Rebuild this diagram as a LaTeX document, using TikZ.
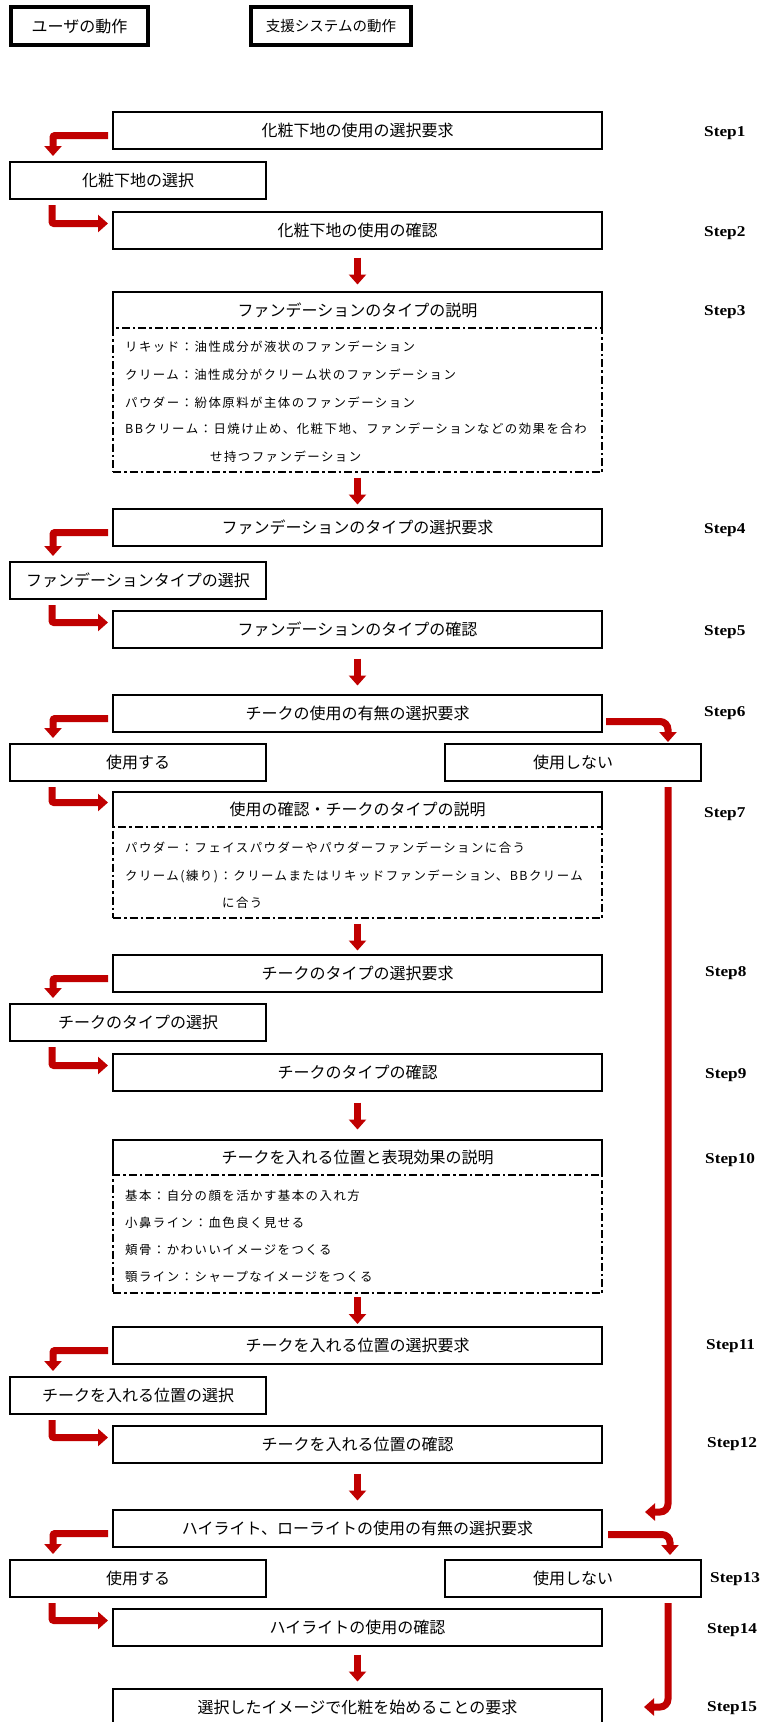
\documentclass[tikz,border=0pt]{standalone}
\usepackage{fontspec}
\setmainfont{Noto Sans CJK JP}
\newfontfamily\stepfont[FakeStretch=1.15]{Liberation Serif}
\newfontfamily\detfont[LetterSpace=12]{Noto Sans CJK JP}
\usetikzlibrary{arrows.meta,calc}
\definecolor{arrowred}{HTML}{C00000}
\tikzset{
 box/.style={draw, line width=2pt, anchor=north west, inner sep=0pt, outer sep=0pt, minimum height=37pt, font=\fontsize{16}{18}\selectfont},
 sbox/.style={box, minimum width=489pt},
 ubox/.style={box, minimum width=256pt},
 hbox/.style={box, line width=3.5pt, minimum height=38pt},
 headbox/.style={box, minimum width=489pt, minimum height=36pt, draw=none},
 dashbox/.style={draw, line width=2.8pt, dash pattern=on 8pt off 3pt on 2.5pt off 3pt, anchor=north west, inner sep=0pt, outer sep=0pt, minimum width=489pt},
 det/.style={anchor=west, inner sep=0pt, font=\detfont\fontsize{12.4}{14}\selectfont},
 steplbl/.style={anchor=west, inner sep=0pt, font=\stepfont\bfseries\fontsize{15}{17}\selectfont},
 redarrow/.style={draw=arrowred, line width=7pt, -{Triangle[width=17pt,length=10pt]}},
}
\newcommand\downarr[2]{\draw[redarrow] ($(#1.south)!0.5!(#2.north)+(0,-13)$) -- ($(#1.south)!0.5!(#2.north)+(0,14)$);}
\newcommand\leftdown[2]{\draw[redarrow, rounded corners=2pt] ($(#1.west)+(-5,5)$) -| ($(#2.north west)+(43,-6)$);}
\newcommand\downright[2]{\draw[redarrow, rounded corners=2pt] ($(#1.south west)+(42,6)$) |- ($(#2.west)+(-5,-7)$);}
\begin{document}
\begin{tikzpicture}[x=1pt,y=-1pt]
\fill[white] (0,0) rectangle (761,1722);
\clip (0,0) rectangle (761,1722);
% headers
\node[hbox, minimum width=137pt] (h1) at (11,7) {ユーザの動作};
\node[hbox, minimum width=160pt, font=\fontsize{14.5}{17}\selectfont] (h2) at (251,7) {支援システムの動作};
% steps
\node[sbox] (s1) at (113,112) {化粧下地の使用の選択要求};
\node[ubox] (u1) at (10,162) {化粧下地の選択};
\node[sbox] (s2) at (113,212) {化粧下地の使用の確認};
\node[headbox] (s3) at (113,292) {ファンデーションのタイプの説明};
\draw[line width=2pt] (s3.south west) -- (s3.north west) -- (s3.north east) -- (s3.south east);
\node[dashbox, minimum height=144pt] (d3) at (113,328) {};
\node[det] (d3a) at (125,347) {リキッド：油性成分が液状のファンデーション};
\node[det] (d3b) at (125,375) {クリーム：油性成分がクリーム状のファンデーション};
\node[det] (d3c) at (125,403) {パウダー：紛体原料が主体のファンデーション};
\node[det] (d3d) at (125,429) {BBクリーム：日焼け止め、化粧下地、ファンデーションなどの効果を合わ};
\node[det] (d3e) at (210,457) {せ持つファンデーション};
\node[sbox] (s4) at (113,509) {ファンデーションのタイプの選択要求};
\node[ubox] (u2) at (10,562) {ファンデーションタイプの選択};
\node[sbox] (s5) at (113,611) {ファンデーションのタイプの確認};
\node[sbox] (s6) at (113,695) {チークの使用の有無の選択要求};
\node[ubox] (u3) at (10,744) {使用する};
\node[ubox] (n1) at (445,744) {使用しない};
\node[headbox, minimum height=35pt] (s7) at (113,792) {使用の確認・チークのタイプの説明};
\draw[line width=2pt] (s7.south west) -- (s7.north west) -- (s7.north east) -- (s7.south east);
\node[dashbox, minimum height=91pt] (d7) at (113,827) {};
\node[det] (d7a) at (125,848) {パウダー：フェイスパウダーやパウダーファンデーションに合う};
\node[det] (d7b) at (125,876) {クリーム(練り)：クリームまたはリキッドファンデーション、BBクリーム};
\node[det] (d7c) at (222,903) {に合う};
\node[sbox] (s8) at (113,955) {チークのタイプの選択要求};
\node[ubox] (u4) at (10,1004) {チークのタイプの選択};
\node[sbox] (s9) at (113,1054) {チークのタイプの確認};
\node[headbox, minimum height=35pt] (s10) at (113,1140) {チークを入れる位置と表現効果の説明};
\draw[line width=2pt] (s10.south west) -- (s10.north west) -- (s10.north east) -- (s10.south east);
\node[dashbox, minimum height=118pt] (d10) at (113,1175) {};
\node[det] (d10a) at (125,1196) {基本：自分の顔を活かす基本の入れ方};
\node[det] (d10b) at (125,1223) {小鼻ライン：血色良く見せる};
\node[det] (d10c) at (125,1250) {頬骨：かわいいイメージをつくる};
\node[det] (d10d) at (125,1277) {顎ライン：シャープなイメージをつくる};
\node[sbox] (s11) at (113,1327) {チークを入れる位置の選択要求};
\node[ubox] (u5) at (10,1377) {チークを入れる位置の選択};
\node[sbox] (s12) at (113,1426) {チークを入れる位置の確認};
\node[sbox] (s13) at (113,1510) {ハイライト、ローライトの使用の有無の選択要求};
\node[ubox] (u6) at (10,1560) {使用する};
\node[ubox] (n2) at (445,1560) {使用しない};
\node[sbox] (s14) at (113,1609) {ハイライトの使用の確認};
\node[sbox] (s15) at (113,1689) {選択したイメージで化粧を始めることの要求};
% step labels
\node[steplbl] (l1) at (704,133) {Step1};
\node[steplbl] (l2) at (704,233) {Step2};
\node[steplbl] (l3) at (704,312) {Step3};
\node[steplbl] (l4) at (704,530) {Step4};
\node[steplbl] (l5) at (704,632) {Step5};
\node[steplbl] (l6) at (704,713) {Step6};
\node[steplbl] (l7) at (704,814) {Step7};
\node[steplbl] (l8) at (705,973) {Step8};
\node[steplbl] (l9) at (705,1075) {Step9};
\node[steplbl] (l10) at (705,1160) {Step10};
\node[steplbl] (l11) at (706,1346) {Step11};
\node[steplbl] (l12) at (707,1444) {Step12};
\node[steplbl] (l13) at (710,1579) {Step13};
\node[steplbl] (l14) at (707,1630) {Step14};
\node[steplbl] (l15) at (707,1708) {Step15};
% arrows
\leftdown{s1}{u1}
\downright{u1}{s2}
\downarr{s2}{s3}
\downarr{d3}{s4}
\leftdown{s4}{u2}
\downright{u2}{s5}
\downarr{s5}{s6}
\leftdown{s6}{u3}
\draw[redarrow, rounded corners=8pt] ($(s6.east)+(4,8)$) -| ($(n1.north east)+(-33,-2)$);
\downright{u3}{s7}
\draw[redarrow, rounded corners=8pt] ($(n1.south east)+(-33,6)$) |- ($(s13.north east)+(43,2)$);
\downarr{d7}{s8}
\leftdown{s8}{u4}
\downright{u4}{s9}
\downarr{s9}{s10}
\downarr{d10}{s11}
\leftdown{s11}{u5}
\downright{u5}{s12}
\downarr{s12}{s13}
\leftdown{s13}{u6}
\draw[redarrow, rounded corners=8pt] ($(s13.east)+(6,6)$) -| ($(n2.north east)+(-31,-5)$);
\downright{u6}{s14}
\draw[redarrow, rounded corners=8pt] ($(n2.south east)+(-33,6)$) |- ($(s15.north east)+(42,18)$);
\downarr{s14}{s15}
\end{tikzpicture}
\end{document}
